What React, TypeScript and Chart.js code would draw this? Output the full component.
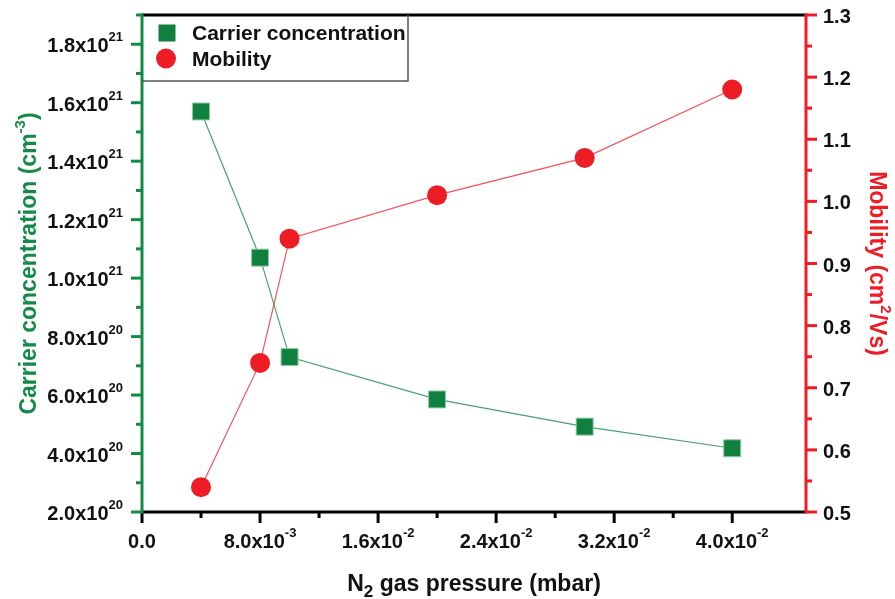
import React, { useEffect, useRef } from 'react';
import { Chart, registerables } from 'chart.js';

Chart.register(...registerables);

// ---- data ----
const pressure = [0.004, 0.008, 0.010, 0.020, 0.030, 0.040];
const carrierConcentration = [1.57e21, 1.07e21, 7.3e20, 5.85e20, 4.92e20, 4.18e20];
const mobility = [0.54, 0.74, 0.94, 1.01, 1.07, 1.18];
const seriesNames = ['Carrier concentration', 'Mobility'];

const FONT = "'Liberation Sans', Arial, Helvetica, sans-serif";
const GREEN = '#10803f';
const AXIS_GREEN = '#148a48';
const RED = '#ee1c25';
const TEXT = '#111111';

type Seg = { t: string; size: number; dy: number };

function drawRich(ctx: CanvasRenderingContext2D, segs: Seg[], x: number, y: number, align: 'left' | 'right' | 'center', color: string) {
  ctx.save();
  ctx.fillStyle = color;
  ctx.textBaseline = 'alphabetic';
  ctx.textAlign = 'left';
  const widths = segs.map((s) => {
    ctx.font = `bold ${s.size}px ${FONT}`;
    return ctx.measureText(s.t).width;
  });
  const total = widths.reduce((a, b) => a + b, 0);
  let cx = align === 'left' ? x : align === 'right' ? x - total : x - total / 2;
  segs.forEach((s, i) => {
    ctx.font = `bold ${s.size}px ${FONT}`;
    ctx.fillText(s.t, cx, y + s.dy);
    cx += widths[i];
  });
  ctx.restore();
}

function sciSegs(v: number, base: number, sup: number): Seg[] {
  if (Math.abs(v) < 1e-30) return [{ t: '0.0', size: base, dy: 0 }];
  const e = Math.floor(Math.log10(Math.abs(v)) + 1e-9);
  const m = v / Math.pow(10, e);
  return [
    { t: `${m.toFixed(1)}x10`, size: base, dy: 0 },
    { t: `${e}`, size: sup, dy: -11 },
  ];
}

function isStep(v: number, step: number) {
  const r = v / step;
  return Math.abs(r - Math.round(r)) < 1e-6;
}

const axesPlugin = {
  id: 'customAxes',
  afterDraw(chart: any) {
    const ctx: CanvasRenderingContext2D = chart.ctx;
    const { left, top, right, bottom } = chart.chartArea;
    const xs = chart.scales.x;
    const ys = chart.scales.y;
    const y1 = chart.scales.y1;

    ctx.save();
    ctx.lineCap = 'butt';

    // frame: top & bottom black
    ctx.strokeStyle = '#000';
    ctx.lineWidth = 3;
    ctx.beginPath();
    ctx.moveTo(left, top);
    ctx.lineTo(right, top);
    ctx.moveTo(left, bottom);
    ctx.lineTo(right, bottom);
    ctx.stroke();

    // x ticks
    ctx.strokeStyle = '#000';
    ctx.lineWidth = 3;
    xs.ticks.forEach((t: any) => {
      if (!isStep(t.value, 0.004)) return;
      const major = isStep(t.value, 0.008);
      const px = xs.getPixelForValue(t.value);
      ctx.beginPath();
      ctx.moveTo(px, bottom);
      ctx.lineTo(px, bottom + (major ? 11 : 6));
      ctx.stroke();
      if (major) drawRich(ctx, sciSegs(t.value, 20, 13), px, 548, 'center', TEXT);
    });

    // left axis
    ctx.strokeStyle = AXIS_GREEN;
    ctx.lineWidth = 3;
    ctx.beginPath();
    ctx.moveTo(left, top - 1.5);
    ctx.lineTo(left, bottom + 1.5);
    ctx.stroke();
    ys.ticks.forEach((t: any) => {
      if (!isStep(t.value, 1e20)) return;
      const major = isStep(t.value, 2e20);
      const py = ys.getPixelForValue(t.value);
      ctx.strokeStyle = AXIS_GREEN;
      ctx.beginPath();
      ctx.moveTo(left - (major ? 11 : 6), py);
      ctx.lineTo(left, py);
      ctx.stroke();
      if (major) drawRich(ctx, sciSegs(t.value, 20, 13), left - 19, py + 8, 'right', TEXT);
    });

    // right axis
    ctx.strokeStyle = RED;
    ctx.lineWidth = 3;
    ctx.beginPath();
    ctx.moveTo(right, top - 1.5);
    ctx.lineTo(right, bottom + 1.5);
    ctx.stroke();
    y1.ticks.forEach((t: any) => {
      if (!isStep(t.value, 0.05)) return;
      const major = isStep(t.value, 0.1);
      const py = y1.getPixelForValue(t.value);
      ctx.strokeStyle = RED;
      ctx.beginPath();
      ctx.moveTo(right, py);
      ctx.lineTo(right + (major ? 11 : 6), py);
      ctx.stroke();
      if (major) drawRich(ctx, [{ t: t.value.toFixed(1), size: 20, dy: 0 }], right + 17, py + 8, 'left', TEXT);
    });

    // axis titles
    const midY = (top + bottom) / 2;
    // left title
    ctx.save();
    ctx.translate(36, midY);
    ctx.rotate(-Math.PI / 2);
    drawRich(ctx, [
      { t: 'Carrier concentration (cm', size: 23, dy: 0 },
      { t: '-3', size: 15, dy: -11 },
      { t: ')', size: 23, dy: 0 },
    ], 0, 0, 'center', AXIS_GREEN);
    ctx.restore();
    // right title
    ctx.save();
    ctx.translate(870, midY);
    ctx.rotate(Math.PI / 2);
    drawRich(ctx, [
      { t: 'Mobility (cm', size: 23, dy: 0 },
      { t: '2', size: 15, dy: -11 },
      { t: '/Vs)', size: 23, dy: 0 },
    ], 0, 0, 'center', RED);
    ctx.restore();
    // x title
    drawRich(ctx, [
      { t: 'N', size: 23, dy: 0 },
      { t: '2', size: 17, dy: 6 },
      { t: ' gas pressure (mbar)', size: 23, dy: 0 },
    ], (left + right) / 2, 591, 'center', TEXT);

    // legend
    ctx.strokeStyle = '#555';
    ctx.lineWidth = 1.5;
    ctx.beginPath();
    ctx.moveTo(left, 81);
    ctx.lineTo(408, 81);
    ctx.lineTo(408, top);
    ctx.stroke();
    ctx.fillStyle = GREEN;
    ctx.fillRect(167 - 8.5, 33 - 8.5, 17, 17);
    ctx.fillStyle = RED;
    ctx.beginPath();
    ctx.arc(166, 58.5, 10, 0, Math.PI * 2);
    ctx.fill();
    drawRich(ctx, [{ t: seriesNames[0], size: 21, dy: 0 }], 192, 40, 'left', TEXT);
    drawRich(ctx, [{ t: seriesNames[1], size: 21, dy: 0 }], 192, 66, 'left', TEXT);

    ctx.restore();
  },
};

export default function App() {
  const ref = useRef<HTMLCanvasElement | null>(null);

  useEffect(() => {
    if (!ref.current) return;
    const chart = new Chart(ref.current, {
      type: 'line',
      data: {
        datasets: [
          {
            label: seriesNames[0],
            data: pressure.map((p, i) => ({ x: p, y: carrierConcentration[i] })),
            yAxisID: 'y',
            borderColor: '#4a9f6e',
            borderWidth: 1.2,
            backgroundColor: GREEN,
            pointStyle: 'rect',
            pointRadius: 12,
            pointBackgroundColor: GREEN,
            pointBorderColor: '#8fcaa6',
            pointBorderWidth: 1,
            tension: 0,
          },
          {
            label: seriesNames[1],
            data: pressure.map((p, i) => ({ x: p, y: mobility[i] })),
            yAxisID: 'y1',
            borderColor: '#f0545a',
            borderWidth: 1.2,
            backgroundColor: RED,
            pointStyle: 'circle',
            pointRadius: 10,
            pointBackgroundColor: RED,
            pointBorderColor: RED,
            pointBorderWidth: 0,
            tension: 0,
          },
        ],
      },
      options: {
        animation: false,
        responsive: false,
        maintainAspectRatio: false,
        layout: { padding: { top: 15, left: 0, right: 0, bottom: 0 } },
        plugins: {
          legend: { display: false },
          tooltip: { enabled: false },
        },
        scales: {
          x: {
            type: 'linear',
            position: 'bottom',
            min: 0,
            max: 0.045,
            ticks: { stepSize: 0.004, display: false },
            grid: { display: false },
            border: { display: false },
            afterFit: (s: any) => { s.height = 87; },
          },
          y: {
            type: 'linear',
            position: 'left',
            min: 2e20,
            max: 1.9e21,
            ticks: { stepSize: 1e20, display: false },
            grid: { display: false },
            border: { display: false },
            afterFit: (s: any) => { s.width = 142; },
          },
          y1: {
            type: 'linear',
            position: 'right',
            min: 0.5,
            max: 1.3,
            ticks: { stepSize: 0.05, display: false },
            grid: { display: false },
            border: { display: false },
            afterFit: (s: any) => { s.width = 89; },
          },
        },
      } as any,
      plugins: [axesPlugin],
    });
    return () => chart.destroy();
  }, []);

  return (
    <div style={{ position: 'fixed', left: 0, top: 0, width: 895, height: 599, background: '#fff' }}>
      <canvas ref={ref} width={895} height={599} style={{ width: 895, height: 599, display: 'block' }} />
    </div>
  );
}
